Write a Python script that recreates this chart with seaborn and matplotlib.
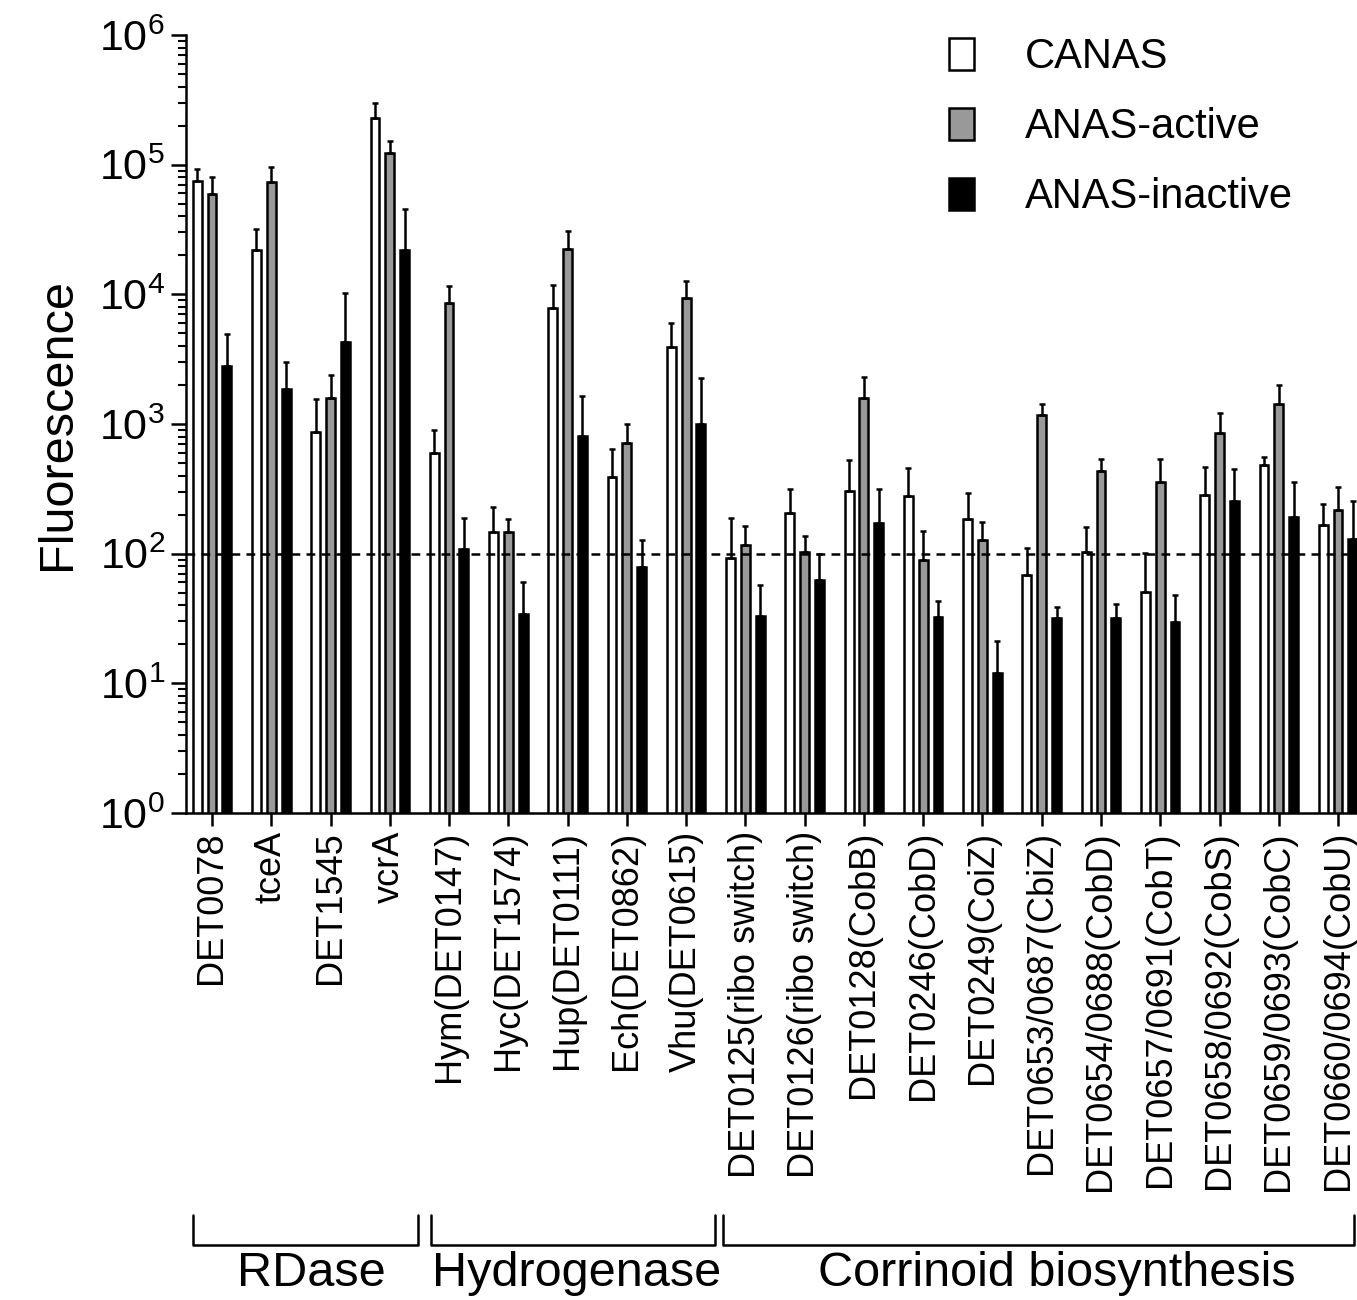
import numpy as np
import pandas as pd
import matplotlib
matplotlib.use("Agg")
import matplotlib.pyplot as plt
from matplotlib.patches import Patch
import seaborn as sns

genes = ["DET0078", "tceA", "DET1545", "vcrA",
         "Hym(DET0147)", "Hyc(DET1574)", "Hup(DET0111)", "Ech(DET0862)", "Vhu(DET0615)",
         "DET0125(ribo switch)", "DET0126(ribo switch)", "DET0128(CobB)", "DET0246(CobD)",
         "DET0249(CoiZ)", "DET0653/0687(CbiZ)", "DET0654/0688(CobD)", "DET0657/0691(CobT)",
         "DET0658/0692(CobS)", "DET0659/0693(CobC)", "DET0660/0694(CobU)"]
conditions = ["CANAS", "ANAS-active", "ANAS-inactive"]

canas = [75000, 22000, 870, 228000, 595, 147, 7900, 390, 3900,
         93, 207, 304, 278, 186, 69, 103, 51, 281, 482, 167]
canas_err = [18000, 10000, 680, 72000, 300, 83, 3800, 250, 2100,
             97, 106, 220, 177, 106, 41, 57, 51, 187, 76, 73]
active = [59000, 73000, 1590, 122000, 8600, 146, 22300, 716, 9300,
          117, 103, 1600, 90, 127, 1178, 433, 359, 851, 1416, 219]
active_err = [21000, 23000, 780, 31000, 2960, 39, 8400, 277, 3300,
              46, 33, 710, 60, 50, 238, 103, 174, 371, 579, 107]
inactive = [2800, 1860, 4260, 21900, 108, 34, 807, 79, 993,
            33, 63, 173, 32.5, 12.1, 31.7, 31.7, 29.9, 257, 193, 129]
inactive_err = [2130, 1130, 5890, 23500, 82, 27, 850, 48, 1270,
                24, 36, 143, 11, 9, 7.3, 9.2, 17.8, 192, 161, 128]

groups = ["RDase", "Hydrogenase", "Corrinoid biosynthesis"]
group_spans = [(-0.32, 3.47), (3.69, 8.48), (8.62, 19.27)]
group_label_x = [1.68, 6.16, 14.25]

values = [canas, active, inactive]
errors = [canas_err, active_err, inactive_err]
colors = ["white", "#999999", "black"]

df = pd.DataFrame({
    "gene": np.repeat([genes], 3, axis=0).ravel(),
    "condition": np.repeat(conditions, len(genes)),
    "value": np.concatenate(values),
})

sns.set_style("ticks")
plt.rcParams["font.family"] = ["Liberation Sans", "DejaVu Sans"]
plt.rcParams["mathtext.fontset"] = "custom"
plt.rcParams["mathtext.rm"] = "Liberation Sans"
plt.rcParams["mathtext.it"] = "Liberation Sans"
plt.rcParams["mathtext.bf"] = "Liberation Sans"
for key in ["text.color", "axes.labelcolor", "xtick.color", "ytick.color", "axes.edgecolor"]:
    plt.rcParams[key] = "black"

fig = plt.figure(figsize=(13.57, 13.0), dpi=100)
ax = fig.add_axes([0.137, 0.3746, 0.863, 0.5985])

sns.barplot(data=df, x="gene", y="value", hue="condition", order=genes,
            hue_order=conditions, palette=colors, saturation=1,
            edgecolor="black", linewidth=1.8, width=0.75, errorbar=None,
            legend=False, log_scale=True, ax=ax)

bar_w = 0.15
for cont, vals, errs in zip(ax.containers, values, errors):
    xs = []
    for bar in cont:
        cx = bar.get_x() + bar.get_width() / 2
        bar.set_width(bar_w)
        bar.set_x(cx - bar_w / 2)
        xs.append(cx)
    ax.errorbar(xs, vals, yerr=[np.zeros(len(vals)), errs], fmt="none",
                ecolor="black", elinewidth=1.8, capsize=2.5, capthick=1.8, zorder=3)

ax.axhline(100, color="black", lw=1.8, ls=(0, (3.5, 2.5)), zorder=5)

ax.set_yscale("log")
ax.set_ylim(1, 1e6)
ax.set_xlim(-0.44, 19.32)
ax.set_yticks([10.0 ** k for k in range(7)])
ax.set_yticklabels([r"$\mathregular{10^{%d}}$" % k for k in range(7)], fontsize=31)
ax.yaxis.set_minor_locator(matplotlib.ticker.LogLocator(base=10, subs=np.arange(2, 10), numticks=20))
ax.yaxis.set_minor_formatter(matplotlib.ticker.NullFormatter())
ax.tick_params(axis="y", which="major", length=11, width=1.8, pad=4)
ax.tick_params(axis="y", which="minor", length=6, width=1.5)
ax.tick_params(axis="x", which="major", length=9, width=1.8, pad=4, labelsize=26, labelrotation=90)
for lbl in ax.get_xticklabels():
    lbl.set_va("top")
    lbl.set_ha("center")

ax.set_xlabel("")
ax.set_ylabel("Fluorescence", fontsize=35, labelpad=14)
for s in ["top", "right"]:
    ax.spines[s].set_visible(False)
for s in ["left", "bottom"]:
    ax.spines[s].set_linewidth(1.8)

handles = [Patch(facecolor=c, edgecolor="black", linewidth=1.8) for c in colors]
ax.legend(handles, conditions, loc="upper left", bbox_to_anchor=(0.62, 1.045),
          frameon=False, fontsize=30, handlelength=0.6, handleheight=0.8,
          handletextpad=1.2, labelspacing=0.72)

trans = matplotlib.transforms.blended_transform_factory(ax.transData, ax.transAxes)
for name, (x0, x1), lx in zip(groups, group_spans, group_label_x):
    ax.plot([x0, x0, x1, x1], [-0.517, -0.555, -0.555, -0.517], color="black",
            lw=1.8, transform=trans, clip_on=False)
    ax.text(lx, -0.592, name, transform=trans, ha="center", va="center",
            fontsize=35)

fig.savefig("out.png", dpi=100)
